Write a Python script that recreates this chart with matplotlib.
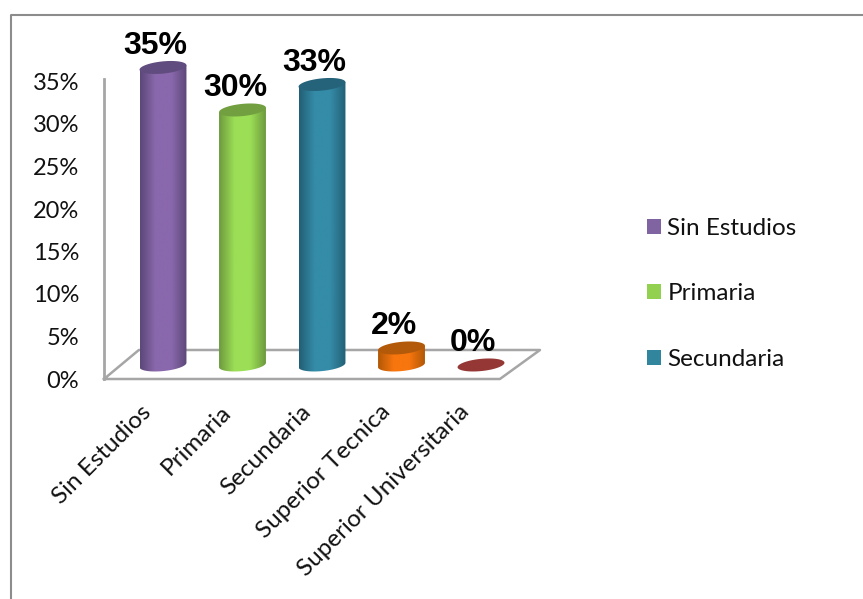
import numpy as np
import matplotlib
matplotlib.use('Agg')
import matplotlib.pyplot as plt
from matplotlib.colors import LinearSegmentedColormap
from matplotlib.lines import Line2D
from matplotlib.patches import PathPatch, Patch, Polygon
from matplotlib.path import Path
from matplotlib.transforms import ScaledTranslation

categorias = ['Sin Estudios', 'Primaria', 'Secundaria', 'Superior Tecnica', 'Superior Universitaria']
valores = [35, 30, 33, 2, 0]
ticks_y = [0, 5, 10, 15, 20, 25, 30, 35]
leyenda = ['Sin Estudios', 'Primaria', 'Secundaria']

# borde, centro y tapa de cada cilindro
col_borde = ['#5c4878', '#6e9a3e', '#235f75', '#b25806', '#953735']
col_centro = ['#8a68ad', '#9cdf56', '#348ca8', '#f8760e', '#953735']
col_tapa = ['#614c7f', '#729f40', '#25637a', '#b35a0a', '#953735']
col_leyenda = ['#8064a2', '#92d050', '#31859c']

W, H = 863, 599
GRIS = '#a6a6a6'
TAM = 17.5

plt.rcParams['font.family'] = ['Lato', 'DejaVu Sans']

fig = plt.figure(figsize=(W/100, H/100), dpi=100)
ax = fig.add_axes([104/W, 1-379/H, 436/W, 300/H])
ax.patch.set_alpha(0)

# marco exterior, abierto por la derecha y por abajo
fig.add_artist(Line2D([10.5/W, 10.5/W, 1], [0, 1-14.5/H, 1-14.5/H], color='#8c8c8c', lw=1.5))

# piso en perspectiva
piso_x = [0, 0.908, 1, 0.08, 0]
piso_y = [0, 0, 0.0967, 0.0967, 0]
ax.plot(piso_x, piso_y, color=GRIS, lw=1.8, transform=ax.transAxes, clip_on=False, zorder=1)

for lado in ['top', 'right', 'bottom']:
    ax.spines[lado].set_visible(False)
ax.spines['left'].set_color(GRIS)
ax.spines['left'].set_linewidth(2)

base = 1.65
a = 0.295   # semieje horizontal
b = 0.72    # semieje vertical
s = 0.26    # inclinacion de las elipses


def elipse(cx, cy, t):
    return cx + a*np.cos(t), cy + b*np.sin(t) + s*np.cos(t)


for i, v in enumerate(valores):
    arriba = base + v
    if v > 0:
        # cuerpo: lados rectos y arco inferior de la elipse
        t = np.linspace(np.pi, 2*np.pi, 50)
        xs, ys = elipse(i, base, t)
        xs = np.concatenate([xs, [i + a, i - a, i - a]])
        ys = np.concatenate([ys, [arriba + s, arriba - s, ys[0]]])
        cuerpo = PathPatch(Path(np.column_stack([xs, ys])), fc='none', ec='none', zorder=3)
        ax.add_patch(cuerpo)
        cmap = LinearSegmentedColormap.from_list('cil', [col_borde[i], col_centro[i], col_centro[i], col_borde[i]])
        grad = np.linspace(0, 1, 128).reshape(1, -1)
        im = ax.imshow(grad, cmap=cmap, aspect='auto', zorder=3, interpolation='bilinear',
                       extent=[i - a, i + a, base - b - s, arriba + s])
        im.set_clip_path(cuerpo)
        im.set_clip_box(fig.bbox)
    tx, ty = elipse(i, arriba, np.linspace(0, 2*np.pi, 80))
    ax.add_patch(Polygon(np.column_stack([tx, ty]), fc=col_tapa[i], ec='none', zorder=4, clip_on=False))
    ax.annotate(f'{v}%', (i, arriba), xytext=(-5.5, 10), textcoords='offset points',
                ha='center', va='baseline', fontsize=23, fontweight='bold',
                family='Liberation Sans', color='black', zorder=6, annotation_clip=False)

ax.set_xlim(-0.742, 4.742)
ax.set_ylim(0, 300/8.5)

ax.set_yticks(ticks_y)
ax.set_yticklabels([f'{t}%' for t in ticks_y], fontsize=17, color='#111111')
ax.tick_params(axis='y', length=0, pad=18)

ax.set_xticks(range(len(categorias)))
ax.set_xticklabels(categorias, rotation=45, ha='right', va='top', rotation_mode='anchor',
                   fontsize=TAM, color='#111111')
ax.tick_params(axis='x', length=0, pad=16)
corrimiento = ScaledTranslation(-16/72, 0, fig.dpi_scale_trans)
for lab in ax.get_xticklabels():
    lab.set_transform(lab.get_transform() + corrimiento)

handles = [Patch(fc=c, ec='none') for c in col_leyenda]
fig.legend(handles, leyenda, loc='center left', bbox_to_anchor=(640/W, 1-294/H), frameon=False,
           fontsize=TAM, handlelength=0.58, handleheight=0.58, handletextpad=0.25,
           labelspacing=1.84, borderpad=0, borderaxespad=0.3, labelcolor='#111111')

fig.savefig('out.png', dpi=100)
